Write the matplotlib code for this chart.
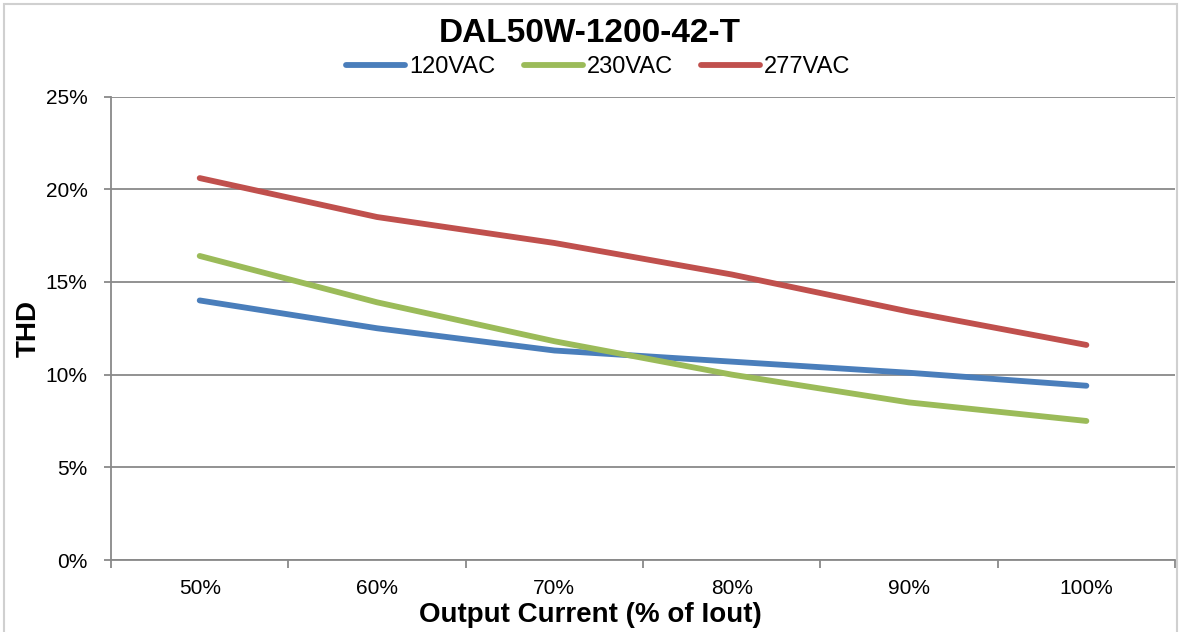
import matplotlib
matplotlib.use("Agg")
import matplotlib.pyplot as plt
from matplotlib.patches import Rectangle
from matplotlib.ticker import FixedLocator, FuncFormatter

# Dados
categorias = ['50%', '60%', '70%', '80%', '90%', '100%']
thd_120 = [14.0, 12.5, 11.3, 10.7, 10.1, 9.4]
thd_230 = [16.4, 13.9, 11.8, 10.0, 8.5, 7.5]
thd_277 = [20.6, 18.5, 17.1, 15.4, 13.4, 11.6]
series_nomes = ['120VAC', '230VAC', '277VAC']
cores = ['#4A7EBB', '#9BBB59', '#C0504D']

plt.rcParams['font.family'] = ['Liberation Sans', 'DejaVu Sans']

fig = plt.figure(figsize=(11.8, 6.32), dpi=100)
ax = fig.add_axes([0.0941, 0.1139, 0.9017, 0.7334])

x = list(range(len(categorias)))
for valores, nome, cor in zip([thd_120, thd_230, thd_277], series_nomes, cores):
    ax.plot(x, valores, color=cor, lw=4.2, label=nome,
            solid_capstyle='round', solid_joinstyle='round')

# Eixos
ax.set_xlim(-0.5, len(categorias) - 0.5)
ax.set_ylim(0, 25)
ax.set_yticks([0, 5, 10, 15, 20, 25])
ax.yaxis.set_major_formatter(FuncFormatter(lambda v, p: '%d%%' % v))
ax.set_xticks(x)
ax.set_xticklabels(categorias)
ax.xaxis.set_minor_locator(FixedLocator([i - 0.5 for i in range(len(categorias) + 1)]))

cinza = '#898989'
ax.grid(True, axis='y', color=cinza, lw=1.3)
ax.set_axisbelow(True)
for lado in ['top', 'right']:
    ax.spines[lado].set_visible(False)
for lado in ['left', 'bottom']:
    ax.spines[lado].set_color(cinza)
    ax.spines[lado].set_linewidth(1.3)

ax.tick_params(axis='y', length=5, width=1.3, color=cinza, pad=12, labelsize=15)
ax.tick_params(axis='x', which='major', length=0, pad=14, labelsize=15)
ax.tick_params(axis='x', which='minor', length=6, width=1.3, color=cinza)

# Titulo e rotulos
fig.text(0.5, 0.9335, 'DAL50W-1200-42-T', ha='center', va='baseline',
         fontsize=24, fontweight='bold')
fig.text(0.5, 0.027, 'Output Current (% of Iout)', ha='center', va='center',
         fontsize=20, fontweight='bold')
fig.text(0.024, 0.481, 'THD', ha='center', va='center', rotation=90,
         fontsize=20, fontweight='bold')

fig.legend(loc='center', bbox_to_anchor=(0.507, 0.894), ncol=3, frameon=False,
           fontsize=17, handlelength=2.5, handletextpad=0.17, columnspacing=1.2,
           borderpad=0, borderaxespad=0)

# Borda do grafico
fig.patches.append(Rectangle((4 / 1180, -0.02), 1173 / 1180, 628 / 632 + 0.02,
                             transform=fig.transFigure, fill=False,
                             edgecolor='#d0d0d0', lw=1.5))

fig.savefig('out.png', dpi=100)
